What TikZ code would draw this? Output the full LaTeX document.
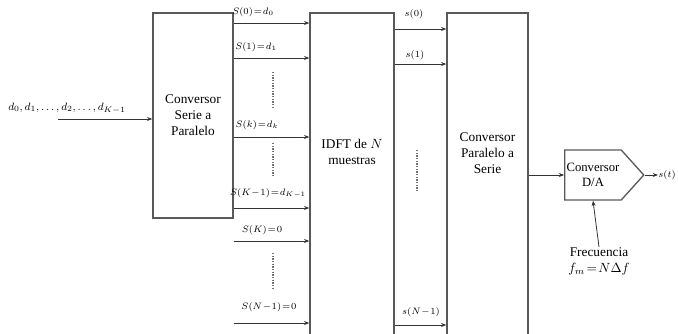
\documentclass[tikz,border=0pt]{standalone}
\usepackage{fontspec}
\setmainfont{Liberation Serif}
\usetikzlibrary{arrows.meta,shapes.symbols}
\newcommand\tightmath{\medmuskip=1mu\relax\thickmuskip=1.5mu\relax}

\begin{document}
\begin{tikzpicture}[x=0.75pt, y=-0.75pt, >={Stealth[length=4pt,width=3pt]},
    blk/.style={draw=black!65, line width=1pt, inner sep=0pt},
    txt/.style={align=center, inner sep=0pt, font=\fontsize{10}{12}\selectfont},
    lnk/.style={->, black!80, line width=0.6pt},
    lbl/.style={inner sep=0pt, font=\scriptsize\tightmath},
    dotcol/.style={black!55, line width=0.8pt, dash pattern=on 1pt off 1pt}]
    \clip (0,0) rectangle (678,333);

    % Blocks
    \node[blk, txt, minimum width=60pt, minimum height=153.75pt] (sp) at (193,115.5) {Conversor\\Serie a\\Paralelo};
    \node[blk, minimum width=63pt, minimum height=242.25pt] (idft) at (352,174.5) {};
    \node[txt] (idfttxt) at (352,152) {IDFT de $N$\\muestras};
    \node[blk, minimum width=60.75pt, minimum height=242.25pt] (ps) at (487.5,174.5) {};
    \node[txt] (pstxt) at (487.5,153) {Conversor\\Paralelo a\\Serie};
    \node[blk, txt, font=\fontsize{9.5}{11.5}\selectfont, shape=signal, signal to=east, signal pointer angle=96,
          minimum width=59.25pt, minimum height=37.5pt] (da) at (593,175) {Conversor\\D/A};

    % Input stream
    \coordinate (in) at (58,119);
    \node[lbl, font=\footnotesize\tightmath] (inlab) at (67,108) {$d_0, d_1, \ldots, d_2, \ldots, d_{K-1}$};
    \draw[lnk] (in) -- (in -| sp.west);

    % Parallel symbols into the IDFT
    \foreach \i/\y/\lx/\ly/\lab in {0/23/253/12/{$S(0)=d_0$}, 1/58/256/47/{$S(1)=d_1$},
        2/137/257/125/{$S(k)=d_k$}, 3/208/268/193/{$S(K-1)=d_{K-1}$},
        4/241/262/230/{$S(K)=0$}, 5/323/269/307/{$S(N-1)=0$}} {
        \coordinate (a\i) at (sp.east |- 0,\y);
        \draw[lnk] (a\i) -- (a\i -| idft.west);
        \node[lbl] (la\i) at (\lx,\ly) {\lab};
    }
    \draw[dotcol] (273,72) -- (273,108);
    \draw[dotcol] (273,143) -- (273,177);
    \draw[dotcol] (273,253) -- (273,288);

    % IDFT outputs
    \foreach \i/\y/\lx/\ly/\lab in {0/29/414/14/{$s(0)$}, 1/64/415/55/{$s(1)$}, 2/325/421/312/{$s(N-1)$}} {
        \coordinate (b\i) at (idft.east |- 0,\y);
        \draw[lnk] (b\i) -- (b\i -| ps.west);
        \node[lbl] (lb\i) at (\lx,\ly) {\lab};
    }
    \draw[dotcol] (417,150) -- (417,192);

    % Serial output and D/A
    \draw[lnk] (ps.east |- da.west) -- (da.west);
    \node[lbl] (st) at (667,175) {$s(t)$};
    \draw[lnk] (da.east) -- (st.west);
    \node[txt] (freq) at (599,261) {Frecuencia\\$f_m\!=\!N\Delta f$};
    \draw[lnk] (freq.north) -- (da.south);
\end{tikzpicture}
\end{document}
